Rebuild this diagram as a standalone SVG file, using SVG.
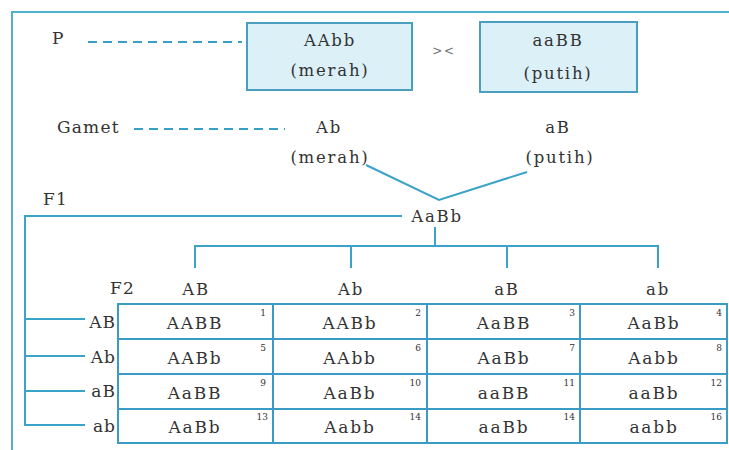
<svg xmlns="http://www.w3.org/2000/svg" width="729" height="450" viewBox="0 0 729 450">
<style>
text{font-family:"DejaVu Serif","Liberation Serif",serif;fill:#333333;}
.t{font-size:16.5px;letter-spacing:1.8px;text-anchor:middle;}
.c{font-size:17px;letter-spacing:1.8px;text-anchor:middle;}
.l{font-size:17px;letter-spacing:1.2px;}
.r{font-size:17px;letter-spacing:1px;text-anchor:end;}
.n{font-size:9px;text-anchor:end;}
.ln{stroke:#3ba3c8;stroke-width:2;fill:none;}
.dash{stroke:#3a9fc6;stroke-width:2;stroke-dasharray:9 6;fill:none;}
.box{fill:#dcf0f8;stroke:#4a9fbf;stroke-width:2;}
.grid{stroke:#3a9cc4;stroke-width:2;fill:none;}
</style>
<rect width="729" height="450" fill="#ffffff"/>
<rect x="12" y="12" width="730" height="450" fill="none" stroke="#4fb3cc" stroke-width="2"/>

<g id="label-P"><text class="l" x="52" y="44">P</text></g>
<g id="label-gamet"><text class="l" x="57" y="133">Gamet</text></g>
<g id="label-F1"><text class="l" x="43" y="205">F1</text></g>
<g id="label-F2"><text class="l" x="110" y="294">F2</text></g>

<g id="parent1">
<rect class="box" x="247" y="23" width="165" height="67"/>
<text class="t" x="330" y="46">AAbb</text>
<text class="t" x="330" y="76">(merah)</text>
</g>
<g id="cross"><text class="t" x="444" y="55" style="font-size:12px;fill:#777">&gt;&lt;</text></g>
<g id="parent2">
<rect class="box" x="480" y="22" width="157" height="70"/>
<text class="t" x="558" y="46">aaBB</text>
<text class="t" x="558" y="79">(putih)</text>
</g>

<g id="gamete1"><text class="t" x="329" y="133">Ab</text><text class="t" x="330" y="163">(merah)</text></g>
<g id="gamete2"><text class="t" x="558" y="133">aB</text><text class="t" x="560" y="163">(putih)</text></g>

<g id="f1"><text class="t" x="437" y="222">AaBb</text></g>

<g id="f2-header">
<text class="t" x="196" y="295">AB</text>
<text class="t" x="351" y="295">Ab</text>
<text class="t" x="507" y="295">aB</text>
<text class="t" x="658" y="295">ab</text>
</g>

<g id="row-labels">
<text class="r" x="116" y="328">AB</text>
<text class="r" x="116" y="363">Ab</text>
<text class="r" x="116" y="397">aB</text>
<text class="r" x="116" y="432">ab</text>
</g>

<g id="connectors">
<line class="dash" x1="88" y1="42" x2="242" y2="42"/>
<line class="dash" x1="134" y1="129" x2="285" y2="129"/>
<polyline class="ln" points="366,165 439,200 527,172"/>
<polyline class="ln" points="402,216 25,216 25,425 85,425"/>
<line class="ln" x1="25" y1="319" x2="85" y2="319"/>
<line class="ln" x1="25" y1="356" x2="85" y2="356"/>
<line class="ln" x1="25" y1="391" x2="85" y2="391"/>
<line class="ln" x1="435" y1="227" x2="435" y2="246"/>
<polyline class="ln" points="195,268 195,246 658,246 658,268"/>
<line class="ln" x1="351" y1="246" x2="351" y2="268"/>
<line class="ln" x1="507" y1="246" x2="507" y2="268"/>
</g>

<g id="punnett-grid">
<rect class="grid" x="118" y="304" width="609" height="139"/>
<line class="grid" x1="118" y1="339" x2="727" y2="339"/>
<line class="grid" x1="118" y1="374" x2="727" y2="374"/>
<line class="grid" x1="118" y1="409" x2="727" y2="409"/>
<line class="grid" x1="273" y1="304" x2="273" y2="443"/>
<line class="grid" x1="427" y1="304" x2="427" y2="443"/>
<line class="grid" x1="580" y1="304" x2="580" y2="443"/>
</g>

<g id="cells">
<text class="c" x="195" y="329">AABB</text><text class="n" x="266" y="316">1</text>
<text class="c" x="350" y="329">AABb</text><text class="n" x="421" y="316">2</text>
<text class="c" x="504" y="329">AaBB</text><text class="n" x="575" y="316">3</text>
<text class="c" x="654" y="329">AaBb</text><text class="n" x="722" y="316">4</text>

<text class="c" x="195" y="364">AABb</text><text class="n" x="266" y="351">5</text>
<text class="c" x="350" y="364">AAbb</text><text class="n" x="421" y="351">6</text>
<text class="c" x="504" y="364">AaBb</text><text class="n" x="575" y="351">7</text>
<text class="c" x="654" y="364">Aabb</text><text class="n" x="722" y="351">8</text>

<text class="c" x="195" y="399">AaBB</text><text class="n" x="266" y="386">9</text>
<text class="c" x="350" y="399">AaBb</text><text class="n" x="421" y="386">10</text>
<text class="c" x="504" y="399">aaBB</text><text class="n" x="575" y="386">11</text>
<text class="c" x="654" y="399">aaBb</text><text class="n" x="722" y="386">12</text>

<text class="c" x="195" y="433">AaBb</text><text class="n" x="268" y="420">13</text>
<text class="c" x="350" y="433">Aabb</text><text class="n" x="421" y="420">14</text>
<text class="c" x="504" y="433">aaBb</text><text class="n" x="575" y="420">14</text>
<text class="c" x="654" y="433">aabb</text><text class="n" x="722" y="420">16</text>
</g>
</svg>
